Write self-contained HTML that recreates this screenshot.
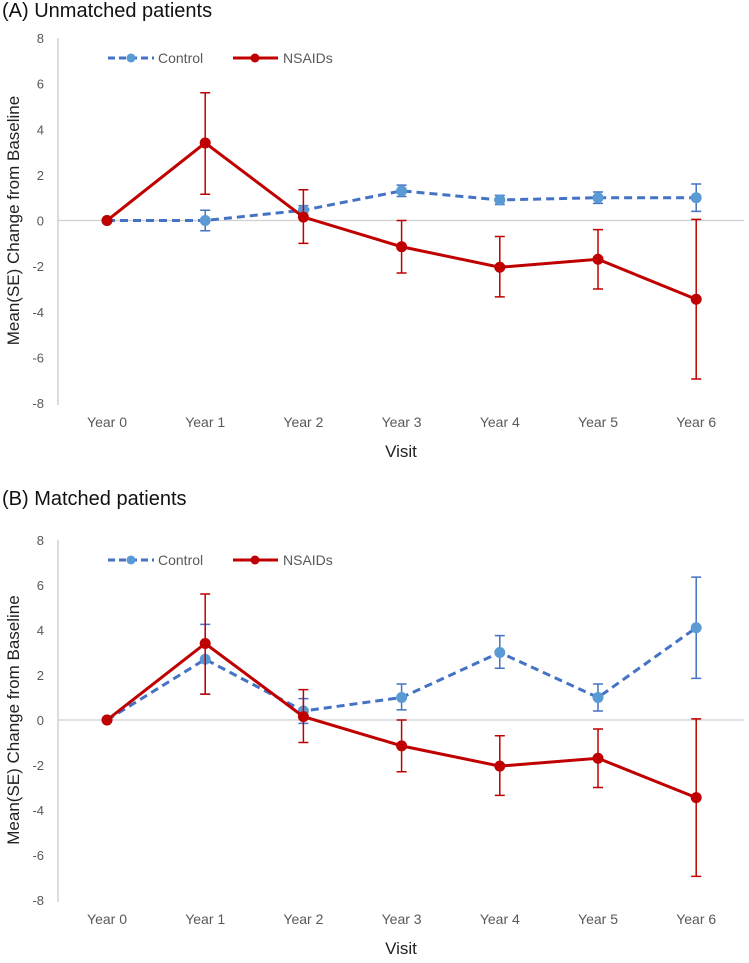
<!DOCTYPE html>
<html><head><meta charset="utf-8">
<style>
html,body{margin:0;padding:0;background:#fff;}
body{width:749px;height:958px;overflow:hidden;font-family:"Liberation Sans","Noto Sans CJK KR",sans-serif;}
svg text{font-family:"Liberation Sans","Noto Sans CJK KR",sans-serif;}
</style></head>
<body>
<svg id="chart" width="749" height="958" xmlns="http://www.w3.org/2000/svg"></svg>
<script>
const categories = ["Year 0","Year 1","Year 2","Year 3","Year 4","Year 5","Year 6"];
const yTicks = [8,6,4,2,0,-2,-4,-6,-8];
const ctrlA = [0,0,0.45,1.3,0.9,1.0,1.0];
const ctrlA_lo = [0,-0.45,0.25,1.05,0.7,0.75,0.4];
const ctrlA_hi = [0,0.45,0.65,1.55,1.1,1.25,1.6];
const nsA = [0,3.4,0.15,-1.15,-2.05,-1.7,-3.45];
const nsA_lo = [0,1.15,-1.0,-2.3,-3.35,-3.0,-6.95];
const nsA_hi = [0,5.6,1.35,0,-0.7,-0.4,0.05];
const ctrlB = [0,2.7,0.4,1.0,3.0,1.0,4.1];
const ctrlB_lo = [0,1.15,-0.15,0.45,2.3,0.4,1.85];
const ctrlB_hi = [0,4.25,0.95,1.6,3.75,1.6,6.35];
const nsB = [0,3.4,0.15,-1.15,-2.05,-1.7,-3.45];
const nsB_lo = [0,1.15,-1.0,-2.3,-3.35,-3.0,-6.95];
const nsB_hi = [0,5.6,1.35,0,-0.7,-0.4,0.05];

const NS="http://www.w3.org/2000/svg";
const svg=document.getElementById('chart');
function mk(tag,attrs,parent,text){const e=document.createElementNS(NS,tag);for(const k in attrs)e.setAttribute(k,attrs[k]);if(text!==undefined)e.textContent=text;(parent||svg).appendChild(e);return e;}

function panel(key,title,top,yTop,yBot,ctrl,clo,chi,ns,nlo,nhi){
  const g=mk('g',{});
  
  
  const y=v=>yTop+(8-v)*(yBot-yTop)/16;
  const x=i=>107+i*98.2;
  const t=mk('text',{x:2,y:top+17,'font-size':20,fill:'#111'},g,title);
  
  
  const ya=mk('line',{x1:58,x2:58,y1:yTop,y2:yBot+2,stroke:'#d0d0d0','stroke-width':1.5},g);
  
  
  const za=mk('line',{x1:58,x2:744,y1:y(0),y2:y(0),stroke:'#d0d0d0','stroke-width':1.2},g);
  
  
  yTicks.forEach(v=>{
    const tt=mk('text',{x:44,y:y(v)+5,'font-size':13,fill:'#595959','text-anchor':'end'},g,String(v));
    
    
  });
  categories.forEach((c,i)=>{
    const tt=mk('text',{x:x(i),y:yBot+24,'font-size':14,fill:'#595959','text-anchor':'middle'},g,c);
    
    
  });
  const xt=mk('text',{x:401,y:yBot+54,'font-size':17,fill:'#222','text-anchor':'middle'},g,'Visit');
  
  
  const cy=(yTop+yBot)/2;
  const yt=mk('text',{x:19,y:cy,'font-size':17,fill:'#222','text-anchor':'middle',transform:'rotate(-90 19 '+cy+')'},g,'Mean(SE) Change from Baseline');
  
  
  const ly=yTop+20;
  const l1=mk('g',{},g);
  
  
  mk('line',{x1:108,x2:154,y1:ly,y2:ly,stroke:'#4472c4','stroke-width':3,'stroke-dasharray':'7,4'},l1);
  mk('circle',{cx:131,cy:ly,r:4.5,fill:'#5b9bd5'},l1);
  mk('text',{x:158,y:ly+5,'font-size':14,fill:'#595959'},l1,'Control');
  const l2=mk('g',{},g);
  
  
  mk('line',{x1:233,x2:278,y1:ly,y2:ly,stroke:'#c00000','stroke-width':3}, l2);
  mk('circle',{cx:255,cy:ly,r:4.5,fill:'#c00000'},l2);
  mk('text',{x:283,y:ly+5,'font-size':14,fill:'#595959'},l2,'NSAIDs');
  function series(name,vals,lo,hi,lineCol,ptCol,dash,errCol){
    const sg=mk('g',{},g);
    
    
    vals.forEach((v,i)=>{
      if(hi[i]===lo[i])return;
      const eb=mk('path',{d:`M${x(i)},${y(lo[i])}V${y(hi[i])}M${x(i)-5},${y(lo[i])}h10M${x(i)-5},${y(hi[i])}h10`,stroke:errCol,'stroke-width':1.5,fill:'none'},sg);
      
      
    });
    const pl=mk('polyline',{points:vals.map((v,i)=>x(i)+','+y(v)).join(' '),fill:'none',stroke:lineCol,'stroke-width':3,'stroke-dasharray':dash},sg);
    
    
    vals.forEach((v,i)=>{
      const c=mk('circle',{cx:x(i),cy:y(v),r:5.5,fill:ptCol},sg);
      
      
    });
  }
  series('control',ctrl,clo,chi,'#4472c4','#5b9bd5','8,5','#4472c4');
  series('nsaids',ns,nlo,nhi,'#c00000','#c00000','none','#c00000');
}
panel('a','(A)  Unmatched patients',0,38,403,ctrlA,ctrlA_lo,ctrlA_hi,nsA,nsA_lo,nsA_hi);
panel('b','(B) Matched patients',488,540,900,ctrlB,ctrlB_lo,ctrlB_hi,nsB,nsB_lo,nsB_hi);
</script>
</body></html>
